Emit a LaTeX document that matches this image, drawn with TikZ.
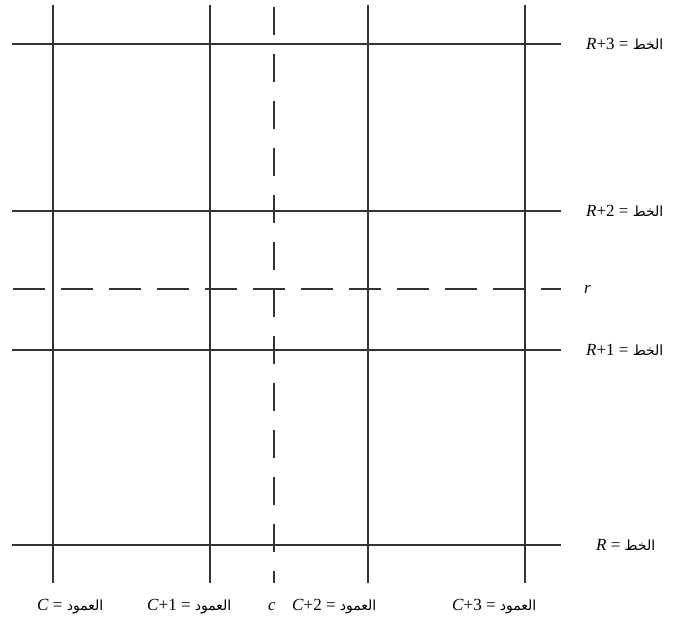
\documentclass[tikz,border=0pt]{standalone}
\usepackage{fontspec}
\setmainfont{Liberation Serif}
\newfontfamily\arabicfont[Script=Arabic]{DejaVu Sans}
\TeXXeTstate=1
\newcommand{\arw}[1]{{\arabicfont\fontsize{14}{17}\selectfont\beginR #1\endR}}
\begin{document}
\begin{tikzpicture}[x=1pt,y=-1pt,
  gridline/.style={line width=1.3pt,draw=black!80},
  hdash/.style={gridline,dash pattern=on 32pt off 16pt},
  vdash/.style={gridline,dash pattern=on 28pt off 19pt},
  lbl/.style={anchor=west,inner sep=0pt,font=\fontsize{17}{20}\selectfont}]
\useasboundingbox (0,0) rectangle (682,639);
% vertical solid lines
\foreach \n/\x in {c0/53,c1/210,c2/368,c3/525}{
  \coordinate (\n t) at (\x,5);
  \coordinate (\n b) at (\x,583);
  \draw[gridline] (\n t) -- (\n b);
}
% horizontal solid lines
\foreach \n/\y in {r3/44,r2/211,r1/350,r0/545}{
  \coordinate (\n l) at (12,\y);
  \coordinate (\n r) at (561,\y);
  \draw[gridline] (\n l) -- (\n r);
}
% dashed lines
\coordinate (ct) at (274,7);
\coordinate (cb) at (274,583);
\draw[vdash] (ct) -- (cb);
\coordinate (rl) at (13,289);
\coordinate (rr) at (561,289);
\draw[hdash] (rl) -- (rr);
% right labels
\node[lbl] (L3) at (586,44) {\textit{R}+3 = \arw{الخط}};
\node[lbl] (L2) at (586,211) {\textit{R}+2 = \arw{الخط}};
\node[lbl] (Lr) at (584,289) {\textit{r}};
\node[lbl] (L1) at (586,350) {\textit{R}+1 = \arw{الخط}};
\node[lbl] (L0) at (596,545) {\textit{R} = \arw{الخط}};
% bottom labels
\node[lbl] (B0) at (37,607) {\textit{C} = \arw{العمود}};
\node[lbl] (B1) at (147,607) {\textit{C}+1 = \arw{العمود}};
\node[lbl] (Bc) at (268,607) {\textit{c}};
\node[lbl] (B2) at (292,607) {\textit{C}+2 = \arw{العمود}};
\node[lbl] (B3) at (452,607) {\textit{C}+3 = \arw{العمود}};
\end{tikzpicture}
\end{document}
